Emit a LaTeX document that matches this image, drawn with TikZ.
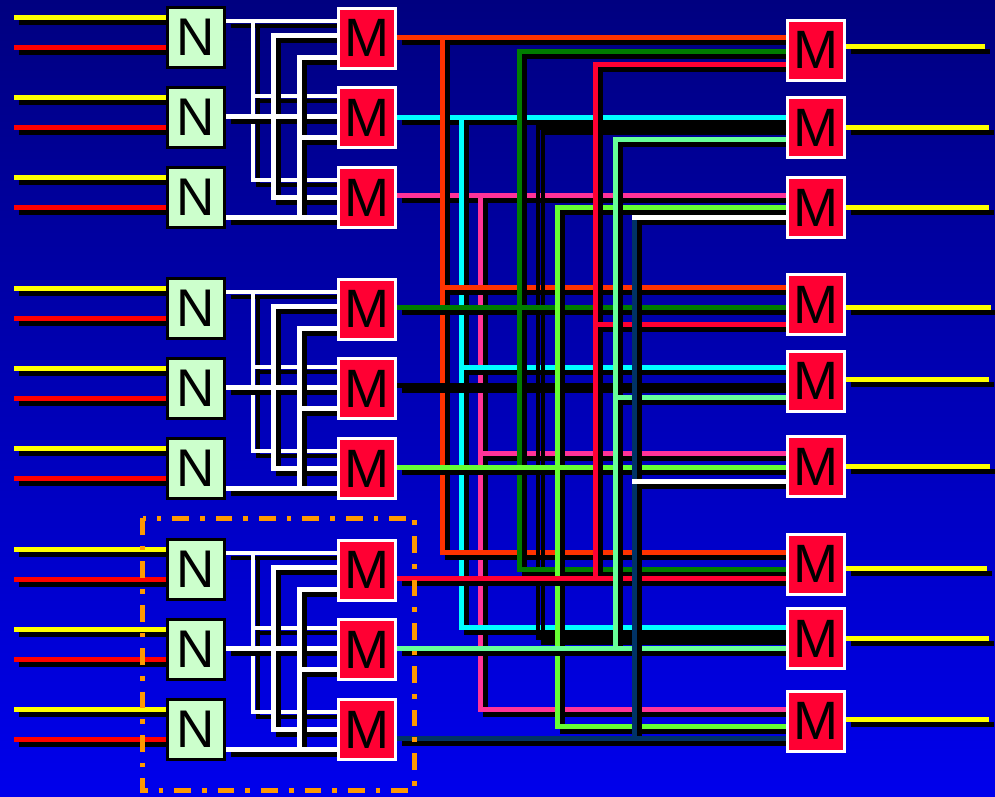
\documentclass[tikz,border=0pt]{standalone}
\usepackage{fontspec}
\setmainfont{Liberation Sans}
\definecolor{bgtop}{RGB}{0,0,128}
\definecolor{bgbot}{RGB}{0,0,236}
\definecolor{cOrange}{RGB}{255,51,0}
\definecolor{cCyan}{RGB}{0,255,255}
\definecolor{cPink}{RGB}{255,51,153}
\definecolor{cGreen}{RGB}{0,125,0}
\definecolor{cLime}{RGB}{102,255,51}
\definecolor{cCrimson}{RGB}{255,0,51}
\definecolor{cPale}{RGB}{102,255,153}
\definecolor{cNavy}{RGB}{0,51,102}
\definecolor{cYellow}{RGB}{255,255,0}
\definecolor{cRed}{RGB}{255,0,0}
\definecolor{nFill}{RGB}{204,255,204}
\definecolor{mFill}{RGB}{255,0,51}
\definecolor{boxOrange}{RGB}{255,153,0}
\pgfdeclarelayer{back}
\pgfdeclarelayer{wires}
\pgfsetlayers{back,wires,main}
\tikzset{
  wire/.style={line width=5pt, line join=miter},
  shd/.style={draw=black},
  nbox/.style={draw=black, fill=nFill, line width=3pt, minimum width=57pt, minimum height=60pt, inner sep=0pt, font=\fontsize{53}{53}\selectfont},
  mbox/.style={draw=white, fill=mFill, line width=3pt, minimum width=57pt, minimum height=60pt, inner sep=0pt, font=\fontsize{54}{54}\selectfont},
  groupframe/.style={draw=boxOrange, line width=5pt, line join=miter, dash pattern=on 16.7pt off 11pt on 4.7pt off 11pt},
}
\newcommand\wirepath[2]{%
  \begin{scope}[transform canvas={shift={(5pt,-5pt)}}]\draw[wire,#1,shd] #2;\end{scope}%
  \draw[wire,#1] #2;}
\newcommand\nmgroup[4]{%
  \wirepath{cYellow}{(14,#1+17) -- (N#2.west |- 0,#1+17)}
  \wirepath{cRed}{(14,#1+47) -- (N#2.west |- 0,#1+47)}
  \wirepath{cYellow}{(14,#1+97.5) -- (N#3.west |- 0,#1+97.5)}
  \wirepath{cRed}{(14,#1+127.5) -- (N#3.west |- 0,#1+127.5)}
  \wirepath{cYellow}{(14,#1+177.5) -- (N#4.west |- 0,#1+177.5)}
  \wirepath{cRed}{(14,#1+207.5) -- (N#4.west |- 0,#1+207.5)}
  \wirepath{white,line width=4pt}{(N#2.east |- 0,#1+21) -- (M#2.west |- 0,#1+21) (253,#1+21) -- (253,#1+180) -- (M#4.west |- 0,#1+180) (253,#1+96) -- (M#3.west |- 0,#1+96)}
  \wirepath{white}{(N#3.east |- 0,#1+116.5) -- (M#3.west |- 0,#1+116.5) (M#2.west |- 0,#1+35) -- (273,#1+35) -- (273,#1+197) -- (M#4.west |- 0,#1+197)}
  \wirepath{white}{(N#4.east |- 0,#1+217) -- (M#4.west |- 0,#1+217) (M#2.west |- 0,#1+57) -- (299,#1+57) -- (299,#1+217) (299,#1+137) -- (M#3.west |- 0,#1+137)}
}
\begin{document}
\begin{tikzpicture}[x=1pt,y=-1pt]
\begin{pgfonlayer}{back}
  \shade[top color=bgtop,bottom color=bgbot] (0,0) rectangle (995,796);
\end{pgfonlayer}
\useasboundingbox (0,0) rectangle (995,796);
% N boxes
\node[nbox] (N1) at (196,37) {N};
\node[nbox] (N2) at (196,117.5) {N};
\node[nbox] (N3) at (196,197.5) {N};
\node[nbox] (N4) at (196,308) {N};
\node[nbox] (N5) at (196,388.5) {N};
\node[nbox] (N6) at (196,468.5) {N};
\node[nbox] (N7) at (196,569) {N};
\node[nbox] (N8) at (196,649.5) {N};
\node[nbox] (N9) at (196,729.5) {N};
% left M boxes
\node[mbox] (M1) at (367,38) {M};
\node[mbox] (M2) at (367,117.5) {M};
\node[mbox] (M3) at (367,197.5) {M};
\node[mbox] (M4) at (367,309) {M};
\node[mbox] (M5) at (367,388.5) {M};
\node[mbox] (M6) at (367,468.5) {M};
\node[mbox] (M7) at (367,570) {M};
\node[mbox] (M8) at (367,649.5) {M};
\node[mbox] (M9) at (367,729.5) {M};
% right M boxes
\node[mbox] (R1) at (816,50) {M};
\node[mbox] (R2) at (816,127.5) {M};
\node[mbox] (R3) at (816,207.5) {M};
\node[mbox] (R4) at (816,304.7) {M};
\node[mbox] (R5) at (816,381) {M};
\node[mbox] (R6) at (816,466.7) {M};
\node[mbox] (R7) at (816,564.3) {M};
\node[mbox] (R8) at (816,638.7) {M};
\node[mbox] (R9) at (816,721) {M};
\begin{pgfonlayer}{wires}
  \nmgroup{0}{1}{2}{3}
  \nmgroup{271}{4}{5}{6}
  \nmgroup{532}{7}{8}{9}
  % middle stage
  \wirepath{cPink}{(M3.east |- 0,195) -- (R3.west |- 0,195) (480.5,195) -- (480.5,709) -- (R9.west |- 0,709) (480.5,453) -- (R6.west |- 0,453)}
  \wirepath{cCyan}{(M2.east |- 0,117) -- (R2.west |- 0,117) (461.5,117) -- (461.5,627) -- (R8.west |- 0,627) (461.5,367) -- (R5.west |- 0,367)}
  \wirepath{cOrange}{(M1.east |- 0,37.5) -- (R1.west |- 0,37.5) (442.5,37.5) -- (442.5,552) -- (R7.west |- 0,552) (442.5,287) -- (R4.west |- 0,287)}
  \wirepath{black,line width=4pt}{(538,126) -- (538,639)}
  \wirepath{black}{(M5.east |- 0,385) -- (R5.west |- 0,385) (536,127.5) -- (R2.west |- 0,127.5) (536,637) -- (R8.west |- 0,637)}
  \wirepath{cGreen}{(M4.east |- 0,307) -- (R4.west |- 0,307) (R1.west |- 0,51) -- (519.5,51) -- (519.5,569) -- (R7.west |- 0,569)}
  \wirepath{cLime}{(M6.east |- 0,467) -- (R6.west |- 0,467) (R3.west |- 0,207.5) -- (557.5,207.5) -- (557.5,726) -- (R9.west |- 0,726)}
  \wirepath{cCrimson}{(M7.east |- 0,578) -- (R7.west |- 0,578) (R1.west |- 0,64) -- (595.5,64) -- (595.5,578) (595.5,324) -- (R4.west |- 0,324)}
  \wirepath{cPale}{(M8.east |- 0,648) -- (R8.west |- 0,648) (R2.west |- 0,139) -- (615.5,139) -- (615.5,648) (615.5,397) -- (R5.west |- 0,397)}
  \wirepath{cNavy}{(M9.east |- 0,738) -- (R9.west |- 0,738) (634.5,218) -- (634.5,738)}
  \wirepath{white}{(632,217.5) -- (R3.west |- 0,217.5) (632,481) -- (R6.west |- 0,481)}
  % outputs
  \wirepath{cYellow}{(R1.east |- 0,46) -- (985,46)}
  \wirepath{cYellow}{(R2.east |- 0,127.5) -- (989,127.5)}
  \wirepath{cYellow}{(R3.east |- 0,207.5) -- (989,207.5)}
  \wirepath{cYellow}{(R4.east |- 0,307) -- (991,307)}
  \wirepath{cYellow}{(R5.east |- 0,379.5) -- (989,379.5)}
  \wirepath{cYellow}{(R6.east |- 0,466.5) -- (990,466.5)}
  \wirepath{cYellow}{(R7.east |- 0,568) -- (987,568)}
  \wirepath{cYellow}{(R8.east |- 0,638) -- (989,638)}
  \wirepath{cYellow}{(R9.east |- 0,719) -- (989,719)}
\end{pgfonlayer}
\draw[groupframe] (142.5,518) -- (142.5,790) -- (414.5,790) -- (414.5,518) -- cycle;
\end{tikzpicture}
\end{document}
